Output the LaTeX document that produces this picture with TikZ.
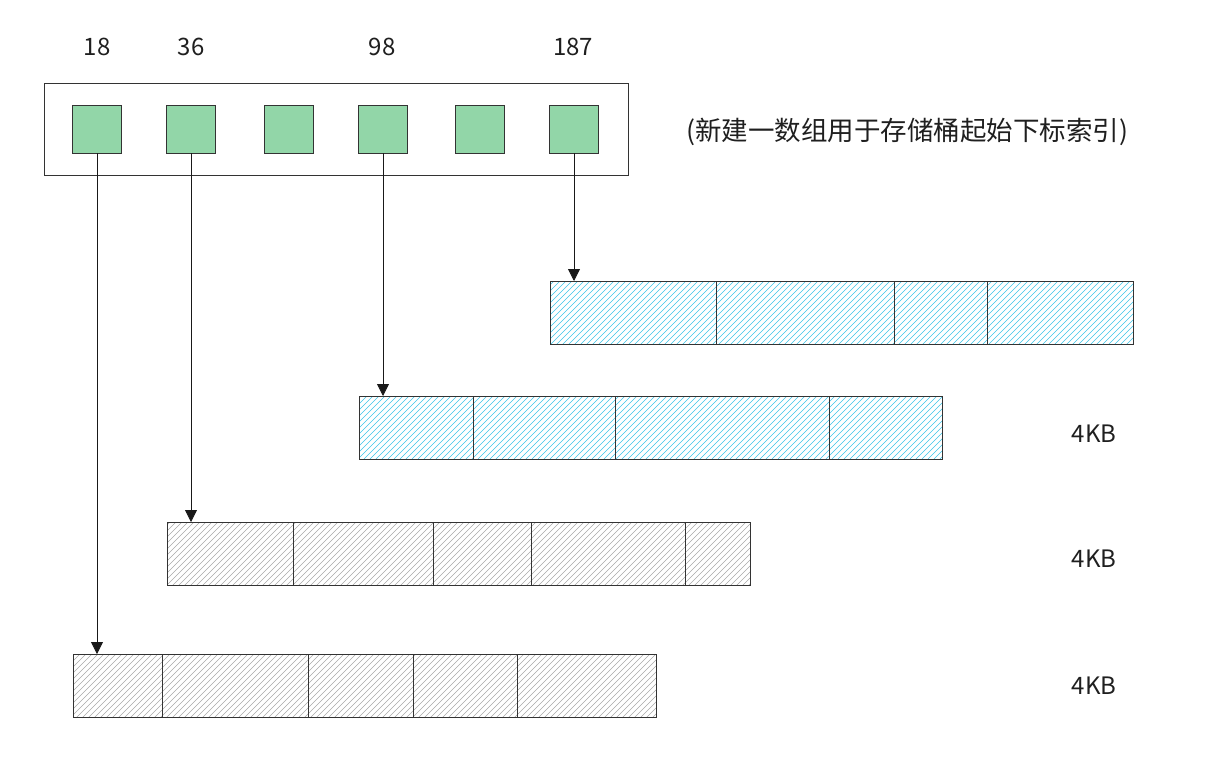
\documentclass[tikz,border=0pt]{standalone}
\usepackage{fontspec}
\setmainfont{Noto Sans CJK SC}
\usetikzlibrary{arrows.meta}
\definecolor{sqgreen}{HTML}{92D6A8}
\definecolor{hcyan}{HTML}{3CC4E8}
\definecolor{hgray}{HTML}{A8A8A8}
\definecolor{edge}{HTML}{333333}
\begin{document}
\begin{tikzpicture}[x=1pt,y=-1pt,
  sq/.style={draw=edge, fill=sqgreen, minimum width=49pt, minimum height=48pt, inner sep=0pt, outer sep=0pt, line width=0.8pt},
  frame/.style={draw=edge, line width=0.8pt, minimum width=584pt, minimum height=92pt, inner sep=0pt, outer sep=0pt},
  cell/.style={draw=edge, line width=0.8pt, minimum height=63pt, inner sep=0pt, outer sep=0pt, anchor=north west},
  lbl/.style={font=\fontsize{24}{28}\selectfont, text=black!88, inner sep=0pt},
  arr/.style={draw=black!90, line width=0.8pt, -{Triangle[width=12pt,length=12pt]}}
]
\useasboundingbox (0,0) rectangle (1220,776);

% index array
\node[frame] (frame) at (336,129) {};
\foreach \x [count=\i] in {97,191,289,383,480,574}
  \node[sq] (s\i) at (\x,129) {};

% index labels
\node[lbl] (n18) at (97,47) {18};
\node[lbl] (n36) at (191,47) {36};
\node[lbl] (n98) at (382,47) {98};
\node[lbl] (n187) at (573,47) {187};

% note
\node[lbl, anchor=west, font=\fontsize{26.5}{30}\selectfont] (note) at (686,132) {(新建一数组用于存储桶起始下标索引)};

% hatching (drawn first, clipped to each bar)
\begin{scope}
  \clip (550,281) rectangle (1133,344) (359,396) rectangle (942,459);
  \foreach \k in {-80,-74,...,1140}
    \draw[draw=hcyan, line width=0.6pt] (\k,459) -- ++(200pt,200pt);
\end{scope}
\begin{scope}
  \clip (167,522) rectangle (750,585) (73,654) rectangle (656,718);
  \foreach \k in {-80,-74,...,760}
    \draw[draw=hgray, line width=0.6pt] (\k,718) -- ++(200pt,200pt);
\end{scope}

% bars
\foreach \x/\w [count=\i] in {550/166,716/178,894/93,987/146}
  \node[cell, minimum width=\w pt] (a\i) at (\x,281) {};
\foreach \x/\w [count=\i] in {359/114,473/142,615/214,829/113}
  \node[cell, minimum width=\w pt] (b\i) at (\x,396) {};
\foreach \x/\w [count=\i] in {167/126,293/140,433/98,531/154,685/65}
  \node[cell, minimum width=\w pt] (c\i) at (\x,522) {};
\foreach \x/\w [count=\i] in {73/89,162/146,308/105,413/104,517/139}
  \node[cell, minimum width=\w pt] (d\i) at (\x,654) {};

% size labels
\node[lbl] (k2) at (1094,434) {4KB};
\node[lbl] (k3) at (1094,559) {4KB};
\node[lbl] (k4) at (1094,686) {4KB};

% arrows
\draw[arr] (s6.south) -- (s6.south |- a1.north);
\draw[arr] (s4.south) -- (s4.south |- b1.north);
\draw[arr] (s2.south) -- (s2.south |- c1.north);
\draw[arr] (s1.south) -- (s1.south |- d1.north);
\end{tikzpicture}
\end{document}
